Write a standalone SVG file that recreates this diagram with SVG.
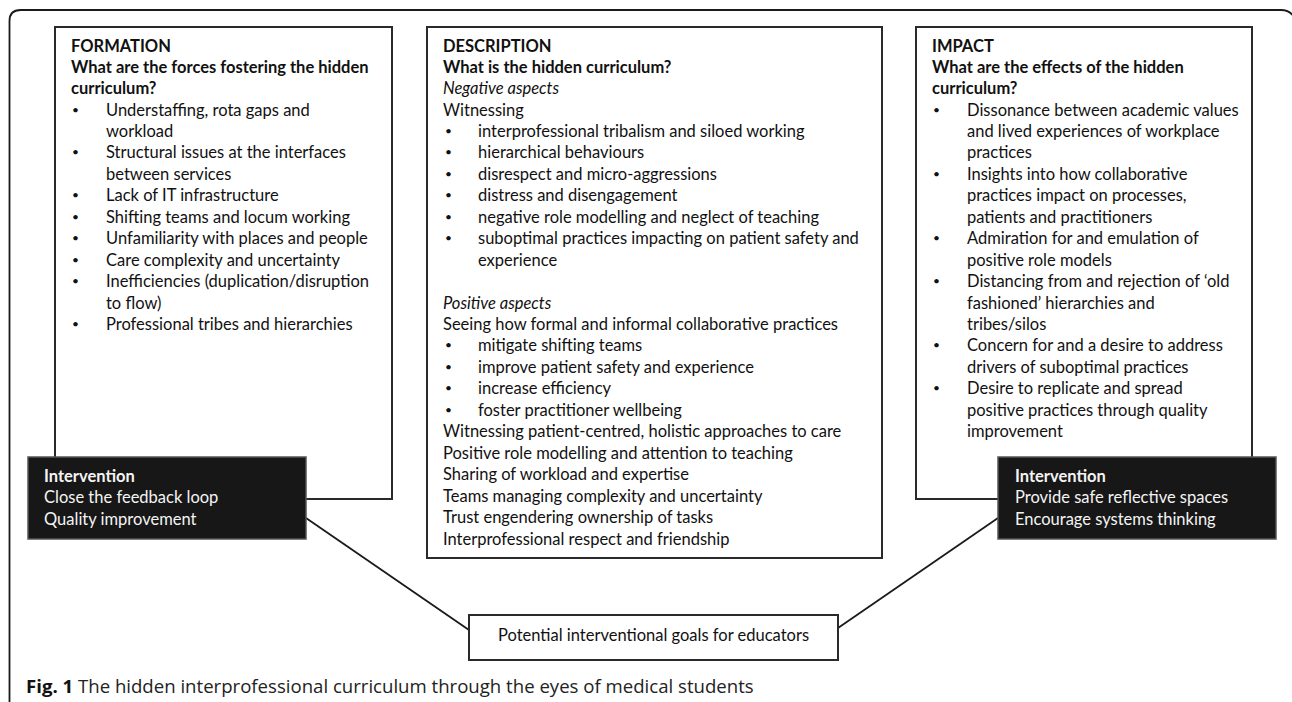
<svg xmlns="http://www.w3.org/2000/svg" width="1292" height="702" viewBox="0 0 1292 702">
<style>
.t{font-family:Lato,"Liberation Sans",sans-serif;font-size:16.5px;fill:#111}
.b{font-weight:bold}
.i{font-style:italic}
.w{fill:#f4f4f4}
.bu{font-size:12px}
.box{fill:#fff;stroke:#2a2a2a;stroke-width:2}
.dark{fill:#171717;stroke:#555;stroke-width:1.5}
.ln{fill:none;stroke:#1a1a1a;stroke-width:1.8}
.cap{font-family:"Open Sans","Liberation Sans",sans-serif;font-size:18.6px;fill:#222}
</style>
<rect width="1292" height="702" fill="#fff"/>
<path class="ln" d="M9.5,702 V21 Q9.5,10 20.5,10 H1281 Q1290,10 1294,17" stroke-width="2"/>
<g id="connectors">
<line class="ln" x1="306" y1="518" x2="469" y2="630"/>
<line class="ln" x1="838" y1="628" x2="998" y2="518"/>
</g>
<g id="formation">
<rect class="box" x="55" y="27" width="337" height="472"/>
<g class="t">
<text x="71" y="52" class="b">FORMATION</text>
<text x="71" y="73" class="b">What are the forces fostering the hidden</text>
<text x="71" y="94" class="b">curriculum?</text>
<text x="72" y="114" class="bu">•</text><text x="106" y="116">Understaffing, rota gaps and</text>
<text x="106" y="137">workload</text>
<text x="72" y="156" class="bu">•</text><text x="106" y="158">Structural issues at the interfaces</text>
<text x="106" y="180">between services</text>
<text x="72" y="199" class="bu">•</text><text x="106" y="201">Lack of IT infrastructure</text>
<text x="72" y="221" class="bu">•</text><text x="106" y="223">Shifting teams and locum working</text>
<text x="72" y="242" class="bu">•</text><text x="106" y="244">Unfamiliarity with places and people</text>
<text x="72" y="264" class="bu">•</text><text x="106" y="266">Care complexity and uncertainty</text>
<text x="72" y="285" class="bu">•</text><text x="106" y="287">Inefficiencies (duplication/disruption</text>
<text x="106" y="309">to flow)</text>
<text x="72" y="328" class="bu">•</text><text x="106" y="330">Professional tribes and hierarchies</text>
</g>
</g>
<g id="intervention-left">
<rect class="dark" x="28" y="457" width="278" height="82"/>
<g class="t w">
<text x="44" y="482" class="b w">Intervention</text>
<text x="44" y="503" class="w">Close the feedback loop</text>
<text x="44" y="525" class="w">Quality improvement</text>
</g>
</g>
<g id="description">
<rect class="box" x="427" y="27" width="455" height="531"/>
<g class="t">
<text x="443" y="52" class="b">DESCRIPTION</text>
<text x="443" y="73" class="b">What is the hidden curriculum?</text>
<text x="443" y="94" class="i">Negative aspects</text>
<text x="443" y="116">Witnessing</text>
<text x="445" y="135" class="bu">•</text><text x="478" y="137">interprofessional tribalism and siloed working</text>
<text x="445" y="156" class="bu">•</text><text x="478" y="158">hierarchical behaviours</text>
<text x="445" y="178" class="bu">•</text><text x="478" y="180">disrespect and micro-aggressions</text>
<text x="445" y="199" class="bu">•</text><text x="478" y="201">distress and disengagement</text>
<text x="445" y="221" class="bu">•</text><text x="478" y="223">negative role modelling and neglect of teaching</text>
<text x="445" y="242" class="bu">•</text><text x="478" y="244">suboptimal practices impacting on patient safety and</text>
<text x="478" y="266">experience</text>
<text x="443" y="309" class="i">Positive aspects</text>
<text x="443" y="330">Seeing how formal and informal collaborative practices</text>
<text x="445" y="349" class="bu">•</text><text x="478" y="351">mitigate shifting teams</text>
<text x="445" y="371" class="bu">•</text><text x="478" y="373">improve patient safety and experience</text>
<text x="445" y="392" class="bu">•</text><text x="478" y="394">increase efficiency</text>
<text x="445" y="414" class="bu">•</text><text x="478" y="416">foster practitioner wellbeing</text>
<text x="443" y="437">Witnessing patient-centred, holistic approaches to care</text>
<text x="443" y="459">Positive role modelling and attention to teaching</text>
<text x="443" y="480">Sharing of workload and expertise</text>
<text x="443" y="502">Teams managing complexity and uncertainty</text>
<text x="443" y="523">Trust engendering ownership of tasks</text>
<text x="443" y="545">Interprofessional respect and friendship</text>
</g>
</g>
<g id="impact">
<rect class="box" x="916" y="27" width="336" height="472"/>
<g class="t">
<text x="932" y="52" class="b">IMPACT</text>
<text x="932" y="73" class="b">What are the effects of the hidden</text>
<text x="932" y="94" class="b">curriculum?</text>
<text x="933" y="114" class="bu">•</text><text x="967" y="116">Dissonance between academic values</text>
<text x="967" y="137">and lived experiences of workplace</text>
<text x="967" y="158">practices</text>
<text x="933" y="178" class="bu">•</text><text x="967" y="180">Insights into how collaborative</text>
<text x="967" y="201">practices impact on processes,</text>
<text x="967" y="223">patients and practitioners</text>
<text x="933" y="242" class="bu">•</text><text x="967" y="244">Admiration for and emulation of</text>
<text x="967" y="266">positive role models</text>
<text x="933" y="285" class="bu">•</text><text x="967" y="287">Distancing from and rejection of ‘old</text>
<text x="967" y="309">fashioned’ hierarchies and</text>
<text x="967" y="330">tribes/silos</text>
<text x="933" y="349" class="bu">•</text><text x="967" y="351">Concern for and a desire to address</text>
<text x="967" y="373">drivers of suboptimal practices</text>
<text x="933" y="392" class="bu">•</text><text x="967" y="394">Desire to replicate and spread</text>
<text x="967" y="416">positive practices through quality</text>
<text x="967" y="437">improvement</text>
</g>
</g>
<g id="intervention-right">
<rect class="dark" x="998" y="457" width="278" height="82"/>
<g class="t w">
<text x="1015" y="482" class="b w">Intervention</text>
<text x="1015" y="503" class="w">Provide safe reflective spaces</text>
<text x="1015" y="525" class="w">Encourage systems thinking</text>
</g>
</g>
<g id="goals">
<rect class="box" x="469" y="615" width="369" height="45"/>
<text x="653.5" y="641" class="t" text-anchor="middle">Potential interventional goals for educators</text>
</g>
<text x="26" y="693" class="cap"><tspan font-weight="bold" fill="#111">Fig. 1</tspan> The hidden interprofessional curriculum through the eyes of medical students</text>
</svg>
